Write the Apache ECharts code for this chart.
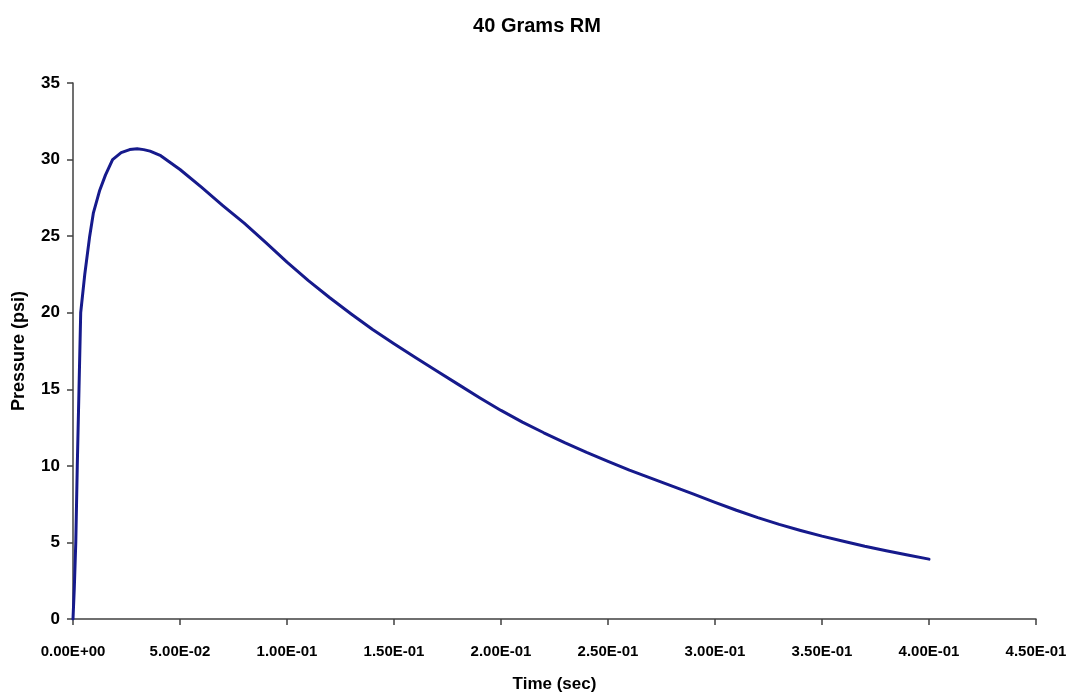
<!DOCTYPE html>
<html>
<head>
<meta charset="utf-8">
<title>40 Grams RM</title>
<script src="https://cdn.jsdelivr.net/npm/echarts@6/dist/echarts.min.js"></script>
<style>
  html, body { margin: 0; padding: 0; background: #ffffff; }
  #chart { width: 1074px; height: 698px; }
</style>
</head>
<body>
<div id="chart"></div>
<script>
// Time samples (seconds) and measured pressure (psi)
const timeSec = [
  0.0000, 0.0006, 0.0013, 0.0020, 0.0028, 0.0036, 0.0055, 0.0078, 0.0095, 0.0125,
  0.0152, 0.0185, 0.0225, 0.0265, 0.0300, 0.0330, 0.0360, 0.0410, 0.0500, 0.0600,
  0.0700, 0.0800, 0.0900, 0.1000, 0.1100, 0.1200, 0.1300, 0.1400, 0.1500, 0.1600,
  0.1700, 0.1800, 0.1900, 0.2000, 0.2100, 0.2200, 0.2300, 0.2400, 0.2500, 0.2600,
  0.2700, 0.2800, 0.2900, 0.3000, 0.3100, 0.3200, 0.3300, 0.3400, 0.3500, 0.3600,
  0.3700, 0.3800, 0.3900, 0.4000
];
const pressurePsi = [
  0.0, 2.0, 5.0, 10.0, 15.0, 20.0, 22.5, 25.0, 26.5, 28.0,
  29.0, 30.0, 30.45, 30.65, 30.7, 30.65, 30.55, 30.25, 29.35, 28.2,
  27.0, 25.85, 24.6, 23.3, 22.1, 20.98, 19.92, 18.9, 17.97, 17.08,
  16.2, 15.32, 14.45, 13.62, 12.86, 12.16, 11.5, 10.88, 10.3, 9.72,
  9.2, 8.68, 8.15, 7.62, 7.1, 6.62, 6.18, 5.78, 5.41, 5.08,
  4.75, 4.46, 4.18, 3.91
];

// Axis tick labels
const xTickStep = 0.05;
const xTickLabels = [
  '0.00E+00', '5.00E-02', '1.00E-01', '1.50E-01', '2.00E-01',
  '2.50E-01', '3.00E-01', '3.50E-01', '4.00E-01', '4.50E-01'
];
const yTickLabels = ['0', '5', '10', '15', '20', '25', '30', '35'];

const seriesData = timeSec.map((t, i) => [t, pressurePsi[i]]);

const chart = echarts.init(document.getElementById('chart'), null, { renderer: 'canvas' });

const axisLineStyle = { color: '#404040', width: 1.5 };
const boldFont = '"Liberation Sans", Arial, sans-serif';

chart.setOption({
  animation: false,
  backgroundColor: '#ffffff',
  title: {
    text: '40 Grams RM',
    left: 'center',
    top: 11,
    textStyle: { fontFamily: boldFont, fontWeight: 'bold', fontSize: 20, color: '#000000' }
  },
  grid: { left: 73, right: 38, top: 83, bottom: 77 },
  xAxis: {
    type: 'value',
    min: 0,
    max: 0.45,
    interval: xTickStep,
    name: 'Time (sec)',
    nameLocation: 'middle',
    nameGap: 57,
    nameTextStyle: { fontFamily: boldFont, fontWeight: 'bold', fontSize: 17, color: '#000000' },
    axisLine: { show: true, onZero: false, lineStyle: axisLineStyle },
    axisTick: { show: true, inside: false, length: 6, lineStyle: axisLineStyle },
    splitLine: { show: false },
    axisLabel: {
      margin: 25,
      fontFamily: boldFont,
      fontWeight: 'bold',
      fontSize: 15,
      color: '#000000',
      formatter: v => xTickLabels[Math.round(v / xTickStep)] || ''
    }
  },
  yAxis: {
    type: 'value',
    min: 0,
    max: 35,
    interval: 5,
    name: 'Pressure (psi)',
    nameLocation: 'middle',
    nameRotate: 90,
    nameGap: 45,
    nameTextStyle: { fontFamily: boldFont, fontWeight: 'bold', fontSize: 18, color: '#000000' },
    axisLine: { show: true, lineStyle: axisLineStyle },
    axisTick: { show: true, inside: false, length: 6, lineStyle: axisLineStyle },
    splitLine: { show: false },
    axisLabel: {
      margin: 13,
      fontFamily: boldFont,
      fontWeight: 'bold',
      fontSize: 17,
      color: '#000000',
      formatter: v => yTickLabels[Math.round(v / 5)] || ''
    }
  },
  series: [{
    type: 'line',
    data: seriesData,
    showSymbol: false,
    smooth: false,
    lineStyle: { color: '#161a8c', width: 3, join: 'round', cap: 'round' },
    z: 3
  }]
});
</script>
</body>
</html>
